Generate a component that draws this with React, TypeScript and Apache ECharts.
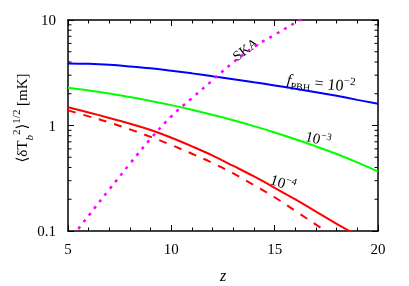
import React, { useEffect, useRef } from "react";
import * as echarts from "echarts";

const zValues = [5, 6, 7, 8, 9, 10, 11, 12, 13, 14, 15, 16, 17, 18, 19, 20];
const fpbh1e2 = [3.87, 3.84, 3.76, 3.63, 3.48, 3.3, 3.12, 2.93, 2.75, 2.57, 2.4, 2.23, 2.07, 1.91, 1.75, 1.61];
const fpbh1e3 = [2.28, 2.15, 2.01, 1.86, 1.71, 1.56, 1.41, 1.26, 1.12, 0.986, 0.859, 0.741, 0.634, 0.537, 0.447, 0.366];
const fpbh1e4 = [1.49, 1.33, 1.18, 1.04, 0.906, 0.766, 0.635, 0.519, 0.414, 0.329, 0.257, 0.199, 0.153, 0.117, 0.091];
const fpbh1e4Dashed = [1.39, 1.22, 1.07, 0.918, 0.78, 0.653, 0.54, 0.441, 0.351, 0.272, 0.209, 0.155, 0.115, 0.085];
const skaSensitivity = [0.078, 0.14, 0.248, 0.435, 0.75, 1.22, 1.82, 2.69, 3.98, 5.56, 7.24, 9.44, 12.3];
const yMinorTicks = [0.2, 0.3, 0.4, 0.5, 0.6, 0.7, 0.8, 0.9, 2, 3, 4, 5, 6, 7, 8, 9];
const xMin = 5;
const xMax = 20;
const yMin = 0.1;
const yMax = 10;

const FONT = "'Liberation Serif', 'DejaVu Serif', serif";

const pair = (vals: number[]) => vals.map((v, i) => [zValues[i], v]);

export default function App() {
  const ref = useRef<HTMLDivElement>(null);
  useEffect(() => {
    if (!ref.current) return;
    const chart = echarts.init(ref.current, undefined, { renderer: "svg" });
    const axisLine = { show: true, lineStyle: { color: "#000", width: 1.5 } };
    const xBase = {
      type: "value",
      min: xMin,
      max: xMax,
      interval: 5,
      axisLine,
      axisTick: { show: true, inside: true, length: 6, lineStyle: { color: "#000", width: 1 } },
      minorTick: { show: true, splitNumber: 5, length: 3.5, lineStyle: { color: "#000", width: 1 } },
      splitLine: { show: false },
      minorSplitLine: { show: false },
    };
    const yBase = {
      type: "log",
      logBase: 10,
      min: yMin,
      max: yMax,
      axisLine,
      axisTick: { show: true, inside: true, length: 6, lineStyle: { color: "#000", width: 1 } },
      splitLine: { show: false },
    };
    const lineSeries = (data: number[], color: string, type: any, width = 2) => ({
      type: "line",
      data: pair(data),
      smooth: 0.4,
      showSymbol: false,
      symbol: "none",
      clip: true,
      lineStyle: { color, width, type, cap: "butt" },
      silent: true,
    });
    chart.setOption({
      animation: false,
      grid: { left: 68, right: 31, top: 20, bottom: 55, outerBoundsMode: "none" },
      xAxis: [
        {
          ...xBase,
          position: "bottom",
          axisLabel: { show: true, color: "#000", fontFamily: FONT, fontSize: 15, margin: 10 },
        },
        { ...xBase, position: "top", axisLabel: { show: false } },
      ],
      yAxis: [
        {
          ...yBase,
          position: "left",
          axisLabel: { show: true, color: "#000", fontFamily: FONT, fontSize: 15, margin: 12 },
        },
        { ...yBase, position: "right", axisLabel: { show: false } },
      ],
      series: [
        lineSeries(fpbh1e2, "#0000ff", "solid"),
        lineSeries(fpbh1e3, "#00ff00", "solid"),
        lineSeries(fpbh1e4, "#ff0000", "solid"),
        lineSeries(fpbh1e4Dashed, "#ff0000", [8, 8]),
        lineSeries(skaSensitivity, "#ff00ff", [3, 5.5], 2.5),
        {
          type: "custom",
          silent: true,
          z: 5,
          data: yMinorTicks.map((v) => [xMin, v]),
          renderItem: (params: any, api: any) => {
            const y = api.coord([xMin, api.value(1)])[1];
            const xl = params.coordSys.x;
            const xr = xl + params.coordSys.width;
            const st = { stroke: "#000", lineWidth: 1 };
            return {
              type: "group",
              children: [
                { type: "line", shape: { x1: xl, y1: y, x2: xl + 3.5, y2: y }, style: st },
                { type: "line", shape: { x1: xr - 3.5, y1: y, x2: xr, y2: y }, style: st },
              ],
            };
          },
        },
      ],
      graphic: [
        {
          type: "text",
          x: 245.5,
          y: 49.5,
          rotation: 0.64,
          style: { text: "SKA", font: `14px ${FONT}`, fill: "#000", align: "center", verticalAlign: "middle" },
        },
        {
          type: "text",
          x: 321,
          y: 83,
          rotation: -0.11,
          style: {
            text: "{i|f}{s|PBH}{n| = 10}{p|−2}",
            align: "center",
            verticalAlign: "middle",
            fill: "#000",
            rich: {
              i: { fontFamily: FONT, fontSize: 16, fontStyle: "italic", lineHeight: 22, verticalAlign: "middle" },
              s: { fontFamily: FONT, fontSize: 10, lineHeight: 10, verticalAlign: "bottom" },
              n: { fontFamily: FONT, fontSize: 16, lineHeight: 22, verticalAlign: "middle" },
              p: { fontFamily: FONT, fontSize: 11, lineHeight: 11, verticalAlign: "top" },
            },
          },
        },
        {
          type: "text",
          x: 318,
          y: 139,
          rotation: -0.24,
          style: {
            text: "{n|10}{p|−3}",
            align: "center",
            verticalAlign: "middle",
            fill: "#000",
            rich: {
              n: { fontFamily: FONT, fontSize: 15, lineHeight: 20, verticalAlign: "middle" },
              p: { fontFamily: FONT, fontSize: 10, lineHeight: 10, verticalAlign: "top" },
            },
          },
        },
        {
          type: "text",
          x: 283,
          y: 183,
          rotation: -0.31,
          style: {
            text: "{n|10}{p|−4}",
            align: "center",
            verticalAlign: "middle",
            fill: "#000",
            rich: {
              n: { fontFamily: FONT, fontSize: 15, lineHeight: 20, verticalAlign: "middle" },
              p: { fontFamily: FONT, fontSize: 10, lineHeight: 10, verticalAlign: "top" },
            },
          },
        },
        {
          type: "text",
          x: 223,
          y: 275,
          style: { text: "z", font: `italic 16px ${FONT}`, fill: "#000", align: "center", verticalAlign: "middle" },
        },
        {
          type: "text",
          x: 22,
          y: 118,
          rotation: Math.PI / 2,
          style: {
            text: "{n|⟨δT}{b|b}{p|2}{n|⟩}{p|1/2}{n| [mK]}",
            align: "center",
            verticalAlign: "middle",
            fill: "#000",
            rich: {
              n: { fontFamily: FONT, fontSize: 15, lineHeight: 24, verticalAlign: "middle" },
              b: { fontFamily: FONT, fontSize: 11, fontStyle: "italic", lineHeight: 11, verticalAlign: "bottom" },
              p: { fontFamily: FONT, fontSize: 11, lineHeight: 11, verticalAlign: "top" },
            },
          },
        },
      ],
    });
    return () => chart.dispose();
  }, []);
  return <div ref={ref} style={{ position: "fixed", left: 0, top: 0, width: 409, height: 286 }} />;
}
